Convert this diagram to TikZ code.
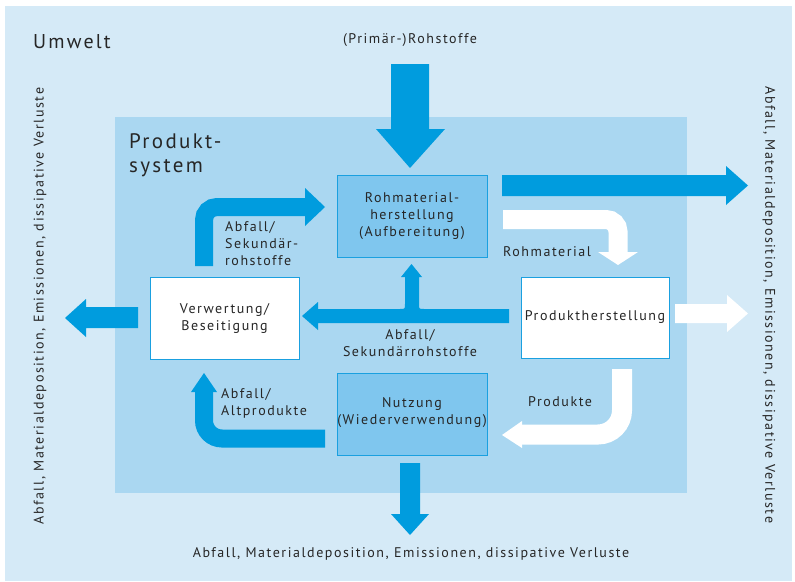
\documentclass[tikz,border=0pt]{standalone}
\usepackage{fontspec}
\setmainfont{PT Sans}[LetterSpace=11]
\definecolor{umweltbg}{HTML}{D5EAF7}
\definecolor{systembg}{HTML}{AAD7F1}
\definecolor{boxfill}{HTML}{7FC6EE}
\definecolor{boxline}{HTML}{1AA0E0}
\definecolor{flowblue}{HTML}{009CDE}
\definecolor{txt}{HTML}{262626}
\tikzset{
  procbox/.style={draw=boxline, line width=1pt},
  blueflow/.style={fill=flowblue},
  whiteflow/.style={fill=white},
  lbl/.style={text=txt, inner sep=0pt, font=\fontsize{14}{17}\selectfont},
  bigtitle/.style={text=txt, inner sep=0pt, font=\fontsize{21}{24}\selectfont},
}
\begin{document}
\begin{tikzpicture}[x=1pt,y=-1pt]
\useasboundingbox (0,0) rectangle (795,581);
% backgrounds
\fill[umweltbg] (5,6) rectangle (792,581);
\fill[systembg] (115,117) rectangle (687,493);

% boxes
\draw[procbox, fill=boxfill] (337,175) rectangle (487,257);
\node[lbl, align=center] (roh) at (412,216.5) {Rohmaterial-\\herstellung\\(Aufbereitung)};
\draw[procbox, fill=white] (150,277) rectangle (299,359);
\node[lbl, align=center] (verw) at (224.5,318) {Verwertung/\\Beseitigung};
\draw[procbox, fill=white] (521,277) rectangle (669,358);
\node[lbl] (prod) at (595,317.5) {Produktherstellung};
\draw[procbox, fill=boxfill] (337,373) rectangle (487,455);
\node[lbl, align=center] (nutz) at (412,412.5) {Nutzung\\(Wiederverwendung)};

% (Primaer-)Rohstoffe arrow
\fill[blueflow] (391,64) -- (429,64) -- (429,129) -- (445,129) -- (410,168) -- (376,129) -- (391,129) -- cycle;
% right top blue arrow
\fill[blueflow] (502,175) -- (726,175) -- (726,166) -- (748,185.5) -- (726,205) -- (726,196) -- (502,196) -- cycle;
% white right arrow
\fill[whiteflow] (675,304) -- (727,304) -- (727,295) -- (748,313.5) -- (727,332) -- (727,323) -- (675,323) -- cycle;
% left blue arrow
\fill[blueflow] (138,307) -- (86,307) -- (86,299) -- (65,318) -- (86,337) -- (86,328) -- (138,328) -- cycle;
% bottom blue arrow
\fill[blueflow] (400,463) -- (420,463) -- (420,514) -- (429,514) -- (410,535) -- (391,514) -- (400,514) -- cycle;

% middle blue arrow with branch
\fill[blueflow] (509,309) -- (424,309) .. controls (419,309) .. (419,304) -- (419,277) -- (422,277) -- (411.5,264) -- (401,277) -- (405,277) -- (405,304) .. controls (405,309) .. (400,309) -- (318,309) -- (318,302) -- (302,316) -- (318,330) -- (318,323) -- (509,323) -- cycle;

% upper-left curved arrow
\draw[flowblue, line width=18pt, rounded corners=13pt] (204,266) |- (306,207);
\fill[blueflow] (305,188) -- (325,207) -- (305,226) -- cycle;
% lower-left curved arrow
\draw[flowblue, line width=18pt, rounded corners=18pt] (325,438.5) -| (204,391);
\fill[blueflow] (191,392) -- (204,373) -- (217,392) -- cycle;
% Rohmaterial white curved arrow
\draw[white, line width=19pt, rounded corners=12pt] (503,219.5) -| (618,253);
\fill[whiteflow] (598,252) -- (618,265) -- (638,252) -- cycle;
% Produkte white curved arrow
\draw[white, line width=20pt, rounded corners=24pt] (622,369) |- (521,434.5);
\fill[whiteflow] (522,421) -- (502,435) -- (522,448) -- cycle;

% labels
\node[lbl, anchor=west, align=left] (l1) at (225,244) {Abfall/\\Sekundär-\\rohstoffe};
\node[lbl, align=center] (l2) at (410,343) {Abfall/\\Sekundärrohstoffe};
\node[lbl, anchor=west] (l3) at (503,252) {Rohmaterial};
\node[lbl, anchor=west, align=left] (l4) at (221,403.5) {Abfall/\\Altprodukte};
\node[lbl, anchor=west] (l5) at (528,402) {Produkte};
\node[lbl] (prim) at (410,40) {(Primär-)Rohstoffe};
\node[lbl] (bot) at (411,554) {Abfall, Materialdeposition, Emissionen, dissipative Verluste};
\node[lbl, rotate=90] (left) at (40,306) {Abfall, Materialdeposition, Emissionen, dissipative Verluste};
\node[lbl, rotate=-90] (right) at (769,305) {Abfall, Materialdeposition, Emissionen, dissipative Verluste};
\node[bigtitle, font=\fontsize{20}{24}\selectfont, anchor=west] (umw) at (33,42) {Umwelt};
\node[bigtitle, anchor=west, align=left] (ps) at (129,155) {Produkt-\\system};
\end{tikzpicture}
\end{document}
